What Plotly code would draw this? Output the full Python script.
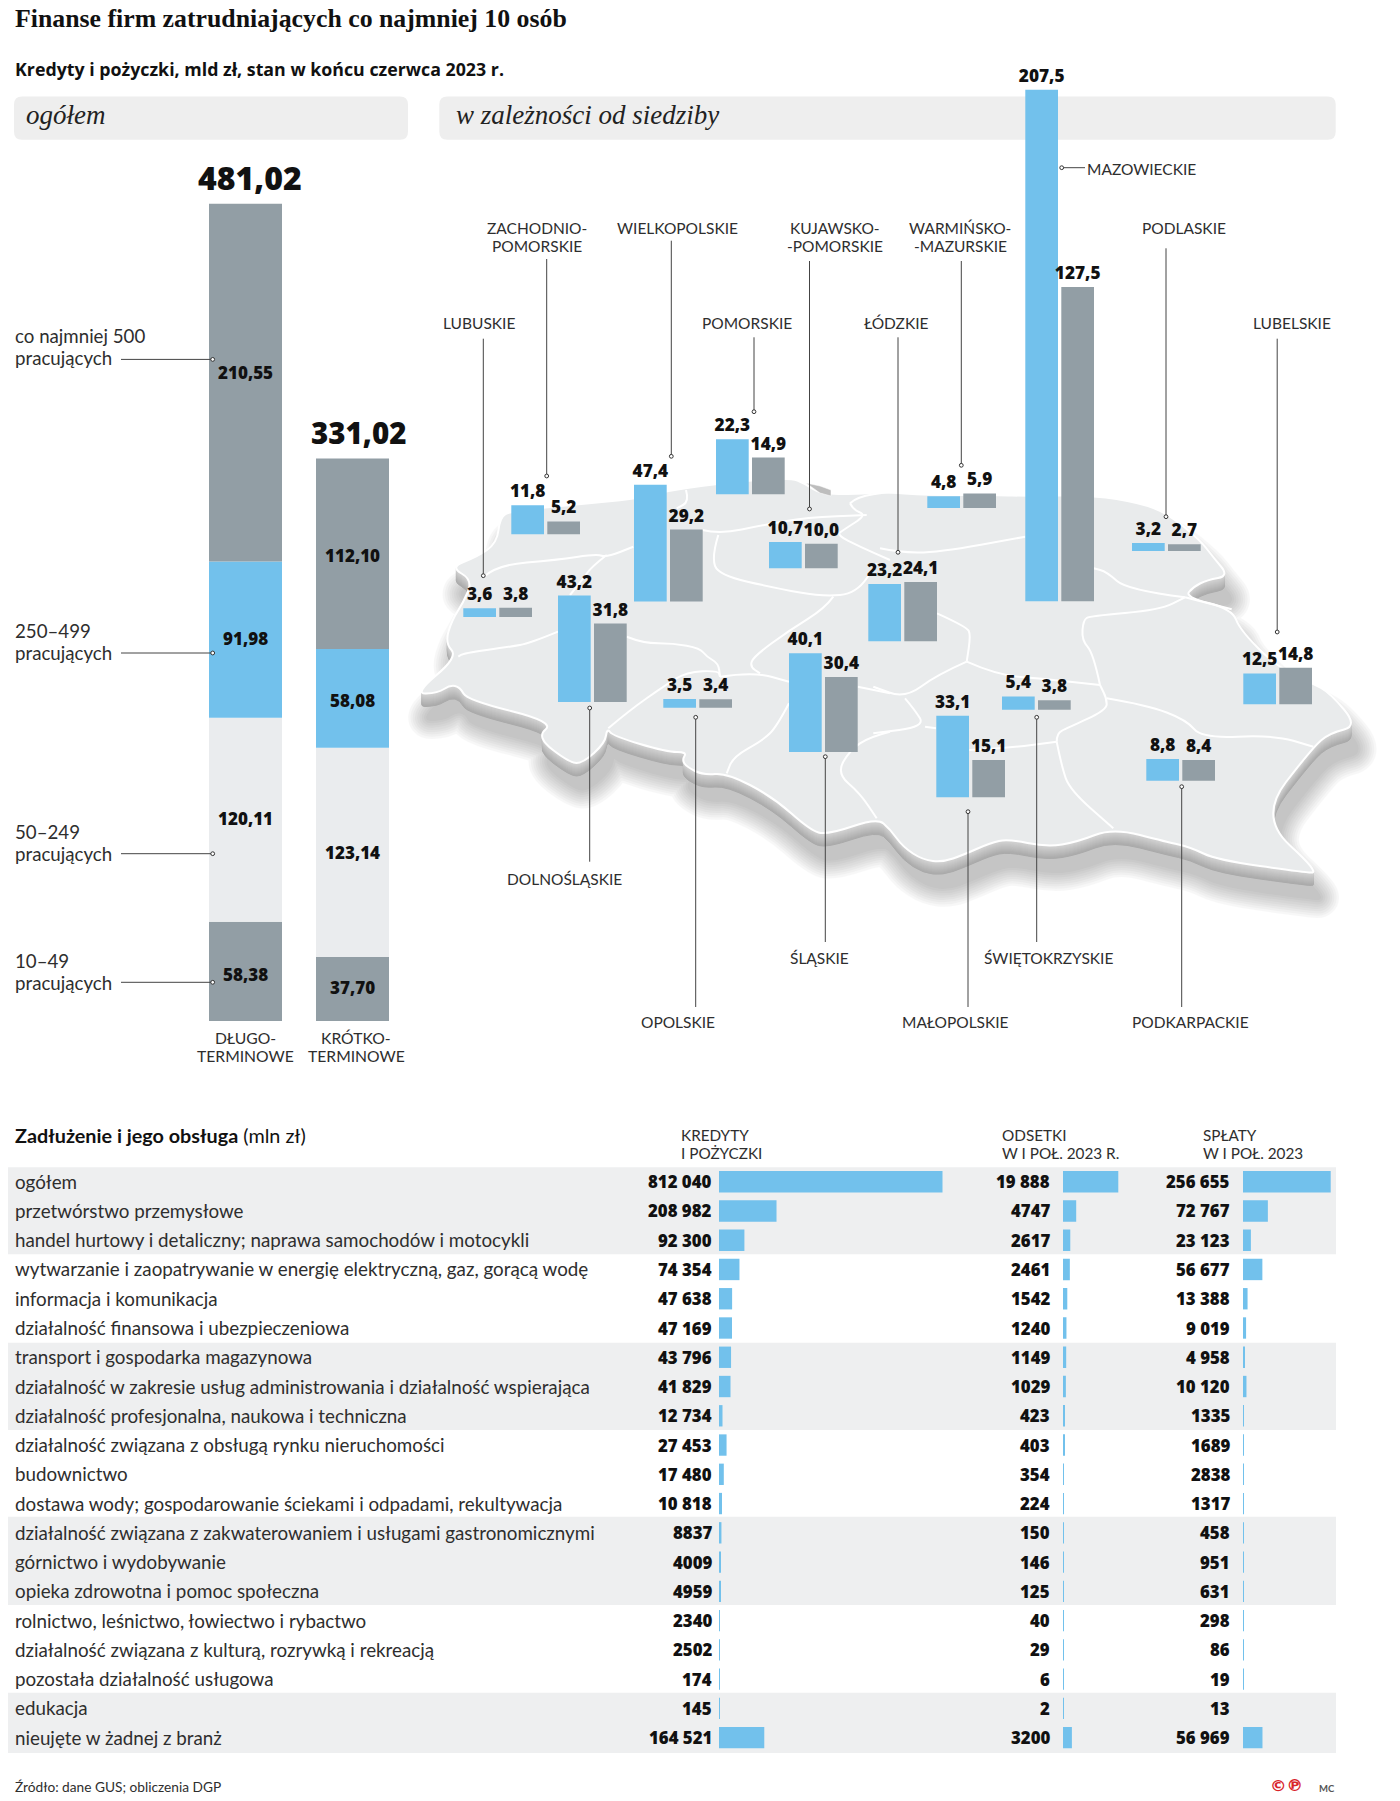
import plotly.graph_objects as go

# ---------- DATA ----------
size_groups = ["10–49", "50–249", "250–499", "co najmniej 500"]
long_term = [58.38, 120.11, 91.98, 210.55]
short_term = [37.70, 123.14, 58.08, 112.10]
long_total_label = "481,02"
short_total_label = "331,02"

regions = ["LUBUSKIE", "ZACHODNIO-POMORSKIE", "WIELKOPOLSKIE", "POMORSKIE", "KUJAWSKO-POMORSKIE",
           "DOLNOŚLĄSKIE", "OPOLSKIE", "ŚLĄSKIE", "ŁÓDZKIE", "WARMIŃSKO-MAZURSKIE", "MAZOWIECKIE",
           "PODLASKIE", "LUBELSKIE", "ŚWIĘTOKRZYSKIE", "MAŁOPOLSKIE", "PODKARPACKIE"]
region_blue = [3.6, 11.8, 47.4, 22.3, 10.7, 43.2, 3.5, 40.1, 23.2, 4.8, 207.5, 3.2, 12.5, 5.4, 33.1, 8.8]
region_grey = [3.8, 5.2, 29.2, 14.9, 10.0, 31.8, 3.4, 30.4, 24.1, 5.9, 127.5, 2.7, 14.8, 3.8, 15.1, 8.4]

industries = ["ogółem", "przetwórstwo przemysłowe", "handel hurtowy i detaliczny; naprawa samochodów i motocykli",
              "wytwarzanie i zaopatrywanie w energię elektryczną, gaz, gorącą wodę", "informacja i komunikacja",
              "działalność finansowa i ubezpieczeniowa", "transport i gospodarka magazynowa",
              "działalność w zakresie usług administrowania i działalność wspierająca",
              "działalność profesjonalna, naukowa i techniczna", "działalność związana z obsługą rynku nieruchomości",
              "budownictwo", "dostawa wody; gospodarowanie ściekami i odpadami, rekultywacja",
              "działalność związana z zakwaterowaniem i usługami gastronomicznymi", "górnictwo i wydobywanie",
              "opieka zdrowotna i pomoc społeczna", "rolnictwo, leśnictwo, łowiectwo i rybactwo",
              "działalność związana z kulturą, rozrywką i rekreacją", "pozostała działalność usługowa",
              "edukacja", "nieujęte w żadnej z branż"]
credit_labels = ["812 040", "208 982", "92 300", "74 354", "47 638", "47 169", "43 796", "41 829", "12 734", "27 453",
                 "17 480", "10 818", "8837", "4009", "4959", "2340", "2502", "174", "145", "164 521"]
interest_labels = ["19 888", "4747", "2617", "2461", "1542", "1240", "1149", "1029", "423", "403",
                   "354", "224", "150", "146", "125", "40", "29", "6", "2", "3200"]
repay_labels = ["256 655", "72 767", "23 123", "56 677", "13 388", "9 019", "4 958", "10 120", "1335", "1689",
                "2838", "1317", "458", "951", "631", "298", "86", "19", "13", "56 969"]
num = lambda labels: [int(s.replace(" ", "")) for s in labels]

# ---------- LAYOUT CONSTANTS (pixels of the 1400x1801 page) ----------
W, H = 1400, 1801
BLUE, GREY, LIGHT = "#72c1ec", "#929ea5", "#eaecee"
BAND = "#eeeff0"
SANS = "Open Sans"
LIGHTSANS = "Lato"
SERIF = "Liberation Serif"
INK = "#111111"
TXT = "#2e2e2e"

STACK_ZERO, STACK_SCALE = 1021.0, 1.699
MAP_SCALE = 2.465
# left edge of blue bar, baseline of both bars for each region
region_left = [463.3, 511.3, 634, 716, 769, 558, 663.3, 789, 868.3, 927.3, 1025.3, 1132, 1243.3, 1002, 936.3, 1146.3]
region_base = [617, 534.3, 601.5, 494.3, 568.3, 702, 707.7, 752, 641.3, 508, 601.3, 551, 704.3, 709.7, 797.3, 780.7]
BW, BSTEP = 32.7, 36.0

ROW0, ROWH = 1181.7, 29.26
TABLE_X = [(719, 223.5, 812040), (1063, 55.3, 19888), (1243, 87.7, 256655)]
TABLE_NUM_RIGHT = [713, 1051, 1231]

# ---------- DECORATION: MAP ----------
outline = [(450,567),(477,557),(497,543),(500,517),(511,511),(580,504),(634,499),(667,491),(714,484),(789,477),
           (806,484),(820,494),(857,494),(882,492),(927,495),(998,495),(1026,496),(1093,495),(1140,503),(1167,513),
           (1200,540),(1213,557),(1229,576),(1207,580),(1193,587),(1185,597),(1232,609),(1240,630),(1277,667),
           (1312,683),(1330,693),(1358,726),(1330,733),(1313,747),(1259,817),(1320,873),(1303,872),(1217,860),
           (1190,847),(1167,842),(1113,828),(1077,842),(1047,847),(1008,839),(990,843),(963,855),(943,862),(923,860),
           (903,847),(890,829),(877,818),(827,835),(810,830),(773,797),(727,773),(703,775),(687,767),(682,760),
           (687,752),(667,752),(613,736),(607,728),(605,743),(583,763),(570,763),(536,737),(555,722),(467,700),
           (460,687),(450,685),(438,693),(414,694),(458,657),(445,643),(452,620),(463,603),(473,580)]

z7 = lambda pts: [(410 + a / 3, 480 + b / 3) for a, b in pts]
z8 = lambda pts: [(880 + a / 3, 480 + b / 3) for a, b in pts]
borders = [
    z7([(222,290),(260,255),(440,240),(560,222),(590,232),(670,200)]),
    z7([(590,225),(545,260),(520,295),(480,345)]),
    z7([(444,455),(360,490),(300,500),(160,520),(145,530)]),
    z7([(828,30),(838,65),(800,85)]),
    z7([(877,150),(930,162),(1060,135),(1190,112),(1370,105)]),
    z7([(1320,70),(1340,50),(1440,35)]),
    z7([(1320,70),(1330,90),(1370,105),(1300,150),(1280,165),(1350,200),(1440,240)]),
    z7([(925,165),(905,230),(925,285),(1100,325),(1240,350),(1340,340),(1400,250)]),
    z7([(1270,350),(1245,385),(1140,450),(1030,530),(1020,560),(1050,580)]),
    z7([(650,470),(700,490),(790,490),(870,505),(890,530),(925,550),(930,590)]),
    z7([(595,745),(660,690),(760,620),(830,575),(925,572),(930,590)]),
    z7([(930,590),(1030,575),(1137,605)]),
    z7([(1137,670),(1100,740),(1060,780),(970,830),(950,880)]),
    z7([(1343,620),(1440,640)]),
    z7([(1440,755),(1380,770),(1320,810),(1280,880),(1350,940),(1400,1015)]),
    z8([(171,400),(260,440),(272,465),(260,545)]),
    z8([(260,545),(350,585),(480,595),(660,615)]),
    z8([(260,545),(170,585),(75,655),(-20,620)]),
    z8([(75,655),(105,690),(135,740),(-20,760)]),
    z8([(135,740),(168,745)]),
    z8([(268,810),(380,805),(530,785)]),
    z8([(530,785),(545,860),(570,930),(700,1045)]),
    z8([(530,785),(530,760),(560,745),(680,690),(680,655),(660,615)]),
    z8([(660,615),(640,520),(605,480),(610,420),(630,408),(840,390),(915,352)]),
    z8([(680,655),(800,675),(920,720),(965,775),(1180,765),(1300,800)]),
    z8([(915,352),(1055,388)]),
    z8([(915,352),(740,330),(680,275),(641,265)]),
    z8([(0,205),(55,217),(170,218),(436,170)]),
]

def smooth_open(pts):
    d = f"M{pts[0][0]:.1f},{pts[0][1]:.1f}"
    for i in range(1, len(pts) - 1):
        mx, my = (pts[i][0] + pts[i + 1][0]) / 2, (pts[i][1] + pts[i + 1][1]) / 2
        d += f" Q{pts[i][0]:.1f},{pts[i][1]:.1f} {mx:.1f},{my:.1f}"
    return d + f" L{pts[-1][0]:.1f},{pts[-1][1]:.1f}"

def smooth_closed(pts, dx=0, dy=0):
    p = [(x + dx, y + dy) for x, y in pts]
    n = len(p)
    mid = lambda a, b: ((a[0] + b[0]) / 2, (a[1] + b[1]) / 2)
    s = mid(p[-1], p[0])
    d = f"M{s[0]:.1f},{s[1]:.1f}"
    for i in range(n):
        m = mid(p[i], p[(i + 1) % n])
        d += f" Q{p[i][0]:.1f},{p[i][1]:.1f} {m[0]:.1f},{m[1]:.1f}"
    return d + " Z"

shapes = []
def add_path(d, fill=None, line=None, width=0, opacity=1, layer="below"):
    shapes.append(dict(type="path", path=d, xref="x", yref="y", layer=layer, opacity=opacity,
                       fillcolor=fill or "rgba(0,0,0,0)", line=dict(color=line or "rgba(0,0,0,0)", width=width)))

def rrect(x0, y0, x1, y1, r=8):
    return (f"M{x0+r},{y0} L{x1-r},{y0} Q{x1},{y0} {x1},{y0+r} L{x1},{y1-r} Q{x1},{y1} {x1-r},{y1} "
            f"L{x0+r},{y1} Q{x0},{y1} {x0},{y1-r} L{x0},{y0+r} Q{x0},{y0} {x0+r},{y0} Z")

# section headers and table bands
add_path(rrect(14, 96.4, 408, 139.7), fill="#eeeeee")
add_path(rrect(439.3, 96.4, 1335.7, 139.7), fill="#eeeeee")
for y0, y1 in [(1167.3, 1254.3), (1342.7, 1430), (1516.7, 1605), (1692.7, 1753)]:
    shapes.append(dict(type="rect", xref="x", yref="y", layer="below", x0=8, x1=1336, y0=y0, y1=y1,
                       fillcolor=BAND, line=dict(width=0)))

# soft shadow
for k in range(9):
    add_path(smooth_closed(outline, 6, 26), fill="#4a4a4a", line="#4a4a4a", width=3 + k * 4.5, opacity=0.036)
# extruded side
for dy in range(13, 0, -1):
    v = int(170 + (13 - dy) * 3.4)
    add_path(smooth_closed(outline, 0, dy), fill=f"rgb({v},{v},{v})", line=f"rgb({v},{v},{v})", width=1)
# top surface
add_path(smooth_closed(outline), fill="#e9ebec", line="#ffffff", width=2)
for b in borders:
    add_path(smooth_open(b), line="#ffffff", width=2)
# Hel peninsula
add_path("M806,483 L820,486 L831,490 L831,496 L820,493 Z", fill="#bdbdbd", line="#ffffff", width=0.5)

# ---------- LEADERS ----------
def leader(x0, y0, x1, y1, dot_x, dot_y, color="#444444"):
    shapes.append(dict(type="line", xref="x", yref="y", layer="above", x0=x0, y0=y0, x1=x1, y1=y1,
                       line=dict(color=color, width=1)))
    shapes.append(dict(type="circle", xref="x", yref="y", layer="above", x0=dot_x - 1.9, x1=dot_x + 1.9,
                       y0=dot_y - 1.9, y1=dot_y + 1.9, fillcolor="#ffffff", line=dict(color="#333333", width=1)))

for y in [359.4, 653, 853.7, 982.3]:
    leader(121, y, 212.7, y, 212.7, y)
vertical_leaders_top = [(483.3, 338.7, 575.7), (546.7, 259, 476), (671.3, 240.7, 456.3), (754, 337.3, 411.7),
                        (809.5, 261, 509), (898, 337.3, 552.3), (961.3, 261, 465.3), (1166, 248.3, 516.7),
                        (1277.2, 338.7, 632)]
for x, y0, y1 in vertical_leaders_top:
    leader(x, y0, x, y1, x, y1)
vertical_leaders_bottom = [(589.7, 708, 861.7), (695.7, 717.3, 1007), (825.3, 756.7, 942), (968, 811.7, 1007),
                           (1036.7, 717.3, 942), (1181.7, 786.7, 1007)]
for x, y0, y1 in vertical_leaders_bottom:
    leader(x, y0, x, y1, x, y0)
leader(1061.7, 167.7, 1085, 167.7, 1061.7, 167.7)

# ---------- TEXT ----------
ann = []
def text(x, y, s, size, family=SANS, color=TXT, anchor="left", yanchor="middle", weight=None, **kw):
    font = dict(family=family, size=size, color=color)
    if weight:
        font["weight"] = weight
    ann.append(dict(x=x, y=y, xref="x", yref="y", text=s, showarrow=False, xanchor=anchor, yanchor=yanchor,
                    align=anchor, borderpad=0, font=font, **kw))

text(14, 18, "<b>Finanse firm zatrudniających co najmniej 10 osób</b>", 25.8, SERIF, INK)
text(14, 68.5, "<b>Kredyty i pożyczki, mld zł, stan w końcu czerwca 2023 r.</b>", 17.8, SANS, INK)
text(25, 115, "<i>ogółem</i>", 27, SERIF, "#222222")
text(455, 115, "<i>w zależności od siedziby</i>", 27, SERIF, "#222222")
text(249.7, 177, long_total_label, 32, SANS, INK, "center", weight=800)
text(359, 432, short_total_label, 29.5, SANS, INK, "center", weight=800)

group_text_y = [(961, 983), (831.7, 853.7), (631, 652.7), (336, 358)]
for g, (y1, y2) in zip(size_groups, group_text_y):
    text(14, y1, g, 18.7, LIGHTSANS)
    text(14, y2, "pracujących", 18.7, LIGHTSANS)

fmt2 = lambda v: f"{v:.2f}".replace(".", ",")
def stack_labels(vals, x, nudge):
    acc = 0
    for v, n in zip(vals, nudge):
        y = STACK_ZERO - (acc + v / 2) * STACK_SCALE + n
        text(x, y, fmt2(v), 17, SANS, INK, "center", weight=800)
        acc += v
stack_labels(long_term, 245.5, [3, -1, -1, -10])
stack_labels(short_term, 352.5, [-1, 0, 2, 2])

for x, lines in [(245.7, ("DŁUGO-", "TERMINOWE")), (356.3, ("KRÓTKO-", "TERMINOWE"))]:
    text(x, 1038, lines[0], 15.7, LIGHTSANS, TXT, "center")
    text(x, 1056, lines[1], 15.7, LIGHTSANS, TXT, "center")

map_labels = [(536.7, 228, "ZACHODNIO-"), (536.7, 245.5, "POMORSKIE"), (677.3, 228, "WIELKOPOLSKIE"),
              (835, 228, "KUJAWSKO-"), (835, 245.5, "-POMORSKIE"), (478.7, 322.7, "LUBUSKIE"),
              (747.3, 322.7, "POMORSKIE"), (896.7, 322.7, "ŁÓDZKIE"), (960, 228, "WARMIŃSKO-"),
              (960, 245.7, "-MAZURSKIE"), (1184, 228, "PODLASKIE"), (1291.7, 322.7, "LUBELSKIE"),
              (564.7, 878.5, "DOLNOŚLĄSKIE"), (677.6, 1022, "OPOLSKIE"), (819, 958, "ŚLĄSKIE"),
              (955.5, 1022, "MAŁOPOLSKIE"), (1048.6, 958, "ŚWIĘTOKRZYSKIE"), (1190, 1022, "PODKARPACKIE")]
for x, y, s in map_labels:
    text(x, y, s, 15.5, LIGHTSANS, TXT, "center")
text(1085.5, 169.3, "MAZOWIECKIE", 15.5, LIGHTSANS, TXT)

text(14, 1135, "<b>Zadłużenie i jego obsługa</b> (mln zł)", 19.8, LIGHTSANS, INK)
for x, a, b in [(680, "KREDYTY", "I POŻYCZKI"), (1001, "ODSETKI", "W I POŁ. 2023 R."), (1202, "SPŁATY", "W I POŁ. 2023")]:
    text(x, 1135, a, 15.3, LIGHTSANS)
    text(x, 1152.7, b, 15.3, LIGHTSANS)
for i, name in enumerate(industries):
    y = ROW0 + ROWH * i - 0.5
    text(13.5, y, name, 18.8, LIGHTSANS)
    for labels, xr in zip((credit_labels, interest_labels, repay_labels), TABLE_NUM_RIGHT):
        text(xr, y + 0.5, labels[i], 16.8, SANS, INK, "right", weight=800)
text(14, 1786, "Źródło: dane GUS; obliczenia DGP", 13.7, LIGHTSANS)
text(1286, 1785.5, "<b>©℗</b>", 16.5, "DejaVu Sans", "#d8232a", "center")
text(1336, 1788, "<b>MC</b>", 9.5, LIGHTSANS, "#555555", "right")

# ---------- TRACES ----------
fig = go.Figure()
colors = [GREY, LIGHT, BLUE, GREY]
def cum(vals):
    out, a = [], 0
    for v in vals:
        out.append(a)
        a += v
    return out
for col, vals in [(245.5, long_term), (352.5, short_term)]:
    fig.add_trace(go.Bar(x=[col] * 4, y=vals, base=cum(vals), width=73, marker=dict(color=colors, line=dict(width=0)),
                         xaxis="x", yaxis="y2", showlegend=False, hoverinfo="skip"))

fmt1 = lambda v: f"{v:.1f}".replace(".", ",")
to_units = lambda py: (H - py) / MAP_SCALE
bases = [to_units(b) for b in region_base]
for vals, off, color in [(region_blue, 0, BLUE), (region_grey, BSTEP, GREY)]:
    fig.add_trace(go.Bar(x=[l + off + BW / 2 for l in region_left], y=vals, base=bases, width=BW,
                         marker=dict(color=color, line=dict(width=0)), text=[fmt1(v) for v in vals],
                         textposition="outside", constraintext="none", cliponaxis=False, textangle=0,
                         textfont=dict(family=SANS, size=17.2, color=INK, weight=800),
                         xaxis="x", yaxis="y3", showlegend=False, hoverinfo="skip"))

for labels, ax in zip((credit_labels, interest_labels, repay_labels), ("x2", "x3", "x4")):
    fig.add_trace(go.Bar(x=num(labels), y=industries, orientation="h", width=0.73,
                         marker=dict(color=BLUE, line=dict(width=0)), xaxis=ax, yaxis="y4",
                         showlegend=False, hoverinfo="skip"))

hidden = dict(visible=False, fixedrange=True)
table_top = ROW0 - ROWH / 2
table_bot = ROW0 + ROWH * 19.5
layout_axes = dict(
    xaxis=dict(range=[0, W], domain=[0, 1], **hidden),
    yaxis=dict(range=[H, 0], domain=[0, 1], **hidden),
    yaxis2=dict(range=[(STACK_ZERO - H) / STACK_SCALE, STACK_ZERO / STACK_SCALE], domain=[0, 1], anchor="x", **hidden),
    yaxis3=dict(range=[0, H / MAP_SCALE], domain=[0, 1], anchor="x", **hidden),
    yaxis4=dict(type="category", categoryorder="array", categoryarray=industries, range=[19.5, -0.5],
                domain=[1 - table_bot / H, 1 - table_top / H], anchor="x2", **hidden),
)
for name, (x0, px, val) in zip(("xaxis2", "xaxis3", "xaxis4"), TABLE_X):
    extra = 40
    layout_axes[name] = dict(range=[0, val * (px + extra) / px], domain=[x0 / W, (x0 + px + extra) / W],
                             anchor="y4", **hidden)

fig.update_layout(width=W, height=H, margin=dict(l=0, r=0, t=0, b=0, pad=0), paper_bgcolor="white",
                  plot_bgcolor="rgba(0,0,0,0)", barmode="overlay", showlegend=False,
                  shapes=shapes, annotations=ann, **layout_axes)
# a hidden point keeps the base pixel subplot alive for shapes and annotations
fig.add_trace(go.Scatter(x=[0], y=[0], mode="markers", marker=dict(opacity=0), xaxis="x", yaxis="y",
                         showlegend=False, hoverinfo="skip"))
# the browser's default 8 px body margin would shift the whole page
fig.write_html("out.html", config=dict(displayModeBar=False),
               post_script="document.body.style.margin='0';document.documentElement.style.overflow='hidden';")
